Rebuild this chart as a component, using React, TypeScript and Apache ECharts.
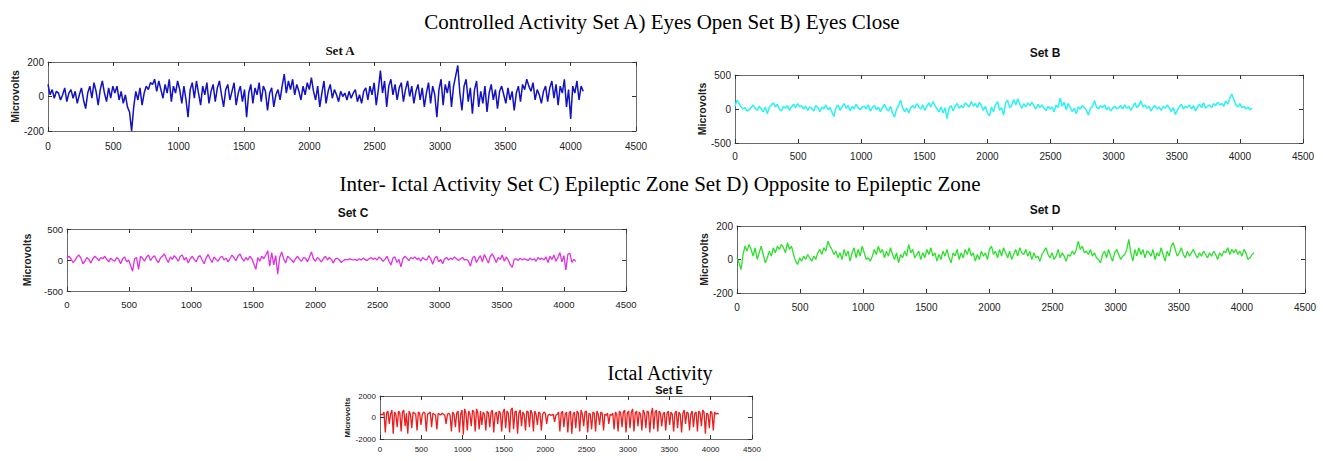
import React, { useEffect, useRef } from "react";
import * as echarts from "echarts";

// ---------------- DATA ----------------
const X_TICKS = [0, 500, 1000, 1500, 2000, 2500, 3000, 3500, 4000, 4500];
const SAMPLE_STEP = 16; // samples between stored points (0 .. 4096)

const setA = [
  70, 10, 40, -10, 30, 20, -20, 10, 50, -30, 20, 40, -10, 30, -40, 10,
  50, -20, -70, 20, 60, -10, 80, 30, -50, 40, 90, 20, -30, 50, -10, 60,
  20, 60, -20, 30, -40, 10, -60, -90, -200, -60, 30, -20, 50, -50, 20, 60,
  40, 80, 70, 100, 30, 90, 40, -10, 70, 20, 100, -30, 60, 20, 90, 40,
  -40, 60, -20, -120, 40, 80, -10, 90, 20, -50, 60, 10, 80, -40, 30, 70,
  -30, 50, 90, 10, -60, 40, 70, -20, 30, 80, -50, 20, 60, -30, 40, -120,
  20, 70, -40, 50, 10, 80, -30, 60, 30, -80, 20, 50, -60, 10, 40, -20,
  60, 130, 20, 90, 40, 100, 10, 70, 30, -20, 60, 10, 80, 40, 110, 30,
  -20, 60, -60, 20, 90, -40, 30, 70, -10, 40, 10, -30, 30, 0, 20, -20,
  30, -10, 20, 40, -30, 10, -40, 30, 50, -20, 60, 10, 80, -50, 40, 150,
  20, 90, -60, 60, 100, 10, 70, -20, 50, 80, -30, 40, 90, 0, 60, -40,
  30, 70, -20, 50, -60, 20, 80, -40, 60, 10, -120, 40, 100, -50, 70, 20,
  90, -60, 60, 120, 180, 20, -80, 60, 100, -30, 50, -100, 40, 90, -60, 30,
  -40, 60, -90, 20, 70, -20, 40, -70, 30, 60, 10, -40, 50, -20, 30, -80,
  20, 60, -30, 70, 40, 100, 60, 30, 80, -20, 40, 10, -40, 30, 60, -30,
  50, 90, -10, 70, -50, 60, 20, 100, -60, 40, -130, 60, 20, 90, -20, 60,
  30,
];

const setB = [
  40, 130, 80, 30, 0, 20, -30, -10, 20, 60, 10, -20, 40, 0, -40, 30,
  -70, 20, 60, 90, 30, 70, 0, -30, 40, 10, 50, -20, 30, 70, 20, 80,
  30, 50, 0, 40, -20, 30, 10, -30, 50, 20, -40, 30, 0, 60, -10, 20,
  -50, -110, 20, 60, -20, 30, 80, 10, 50, -30, 40, 0, 70, 20, -10, 30,
  40, 0, 60, -30, 20, 50, -10, 30, -40, 20, 70, 0, -30, 40, -60, -120,
  0, 50, 130, 20, -40, 10, -60, 20, 50, 10, 80, 30, 0, 60, -20, 40,
  90, 30, 110, 50, 0, -40, 30, -60, 20, -140, 10, 50, -30, 40, 80, 10,
  50, 20, 90, 60, 30, 110, 40, 80, 20, 100, 50, -20, 40, -60, -100, 30,
  -40, 60, 110, -20, 20, -90, 90, 130, 20, 50, 140, 60, 150, 70, 10, 80,
  30, 90, 50, 100, 40, 0, 70, 20, 60, 10, -20, 40, 0, 30, -40, 60,
  20, 160, 40, 100, -10, 80, 20, -40, 10, -70, 30, 0, 50, 20, -20, -90,
  10, 40, 120, 30, 0, 50, 20, 60, -10, 30, -30, 10, 40, 0, 20, 50,
  0, 60, 10, 40, -20, 30, 90, 20, 50, 120, 30, 60, 10, 40, -30, 20,
  50, 0, 30, -20, 40, 10, 60, 20, -40, 20, -80, -20, 30, 70, 0, 40,
  20, 60, 0, 50, -30, 30, 70, 20, 90, 10, 40, 60, 20, 80, 50, 100,
  60, 80, 40, 120, 70, 160, 220, 140, 60, 30, 80, 20, 40, 0, 30, -10,
  10,
];

const setC = [
  30, 60, 20, -40, -10, 50, 80, 30, -60, -20, 40, 10, -50, 20, 60, 30,
  -10, 40, 20, 60, 10, -30, 30, 0, -20, 40, 10, -60, 20, 50, -30, 0,
  -90, -180, 20, 40, -150, 60, 30, -20, 50, 80, -10, 40, 70, 0, -40, 30,
  60, 100, 20, -40, 50, 10, 70, 30, -20, 60, 80, 0, 40, -50, 20, 60,
  10, -30, 50, 70, 0, -60, 30, 90, 20, -40, 50, 10, -20, 40, 60, 0,
  30, -30, 20, 80, 40, -10, 60, 100, 30, -20, 40, 0, 60, 20, -60, -150,
  40, -20, 60, 20, 80, 150, -100, 120, -80, 70, -230, 40, 130, 20, -50, 60,
  30, 0, -40, 20, 60, 10, -20, 40, 30, -30, 50, 130, 20, -20, 40, 10,
  -30, 20, 60, 0, 40, 10, -50, 20, 30, 0, -40, -10, 10, 0, 20, 10,
  0, 10, -10, 20, 0, 30, 10, -10, 20, 40, 10, 30, 0, 50, 20, -20,
  10, 60, -20, -80, 30, 50, -40, 10, -110, 20, 60, 30, -10, 40, 20, 50,
  10, 30, -20, 40, 10, 0, 70, 20, -70, 30, 60, -30, 10, -60, 20, 40,
  0, 30, 10, 50, 20, -10, 20, 40, 0, 10, -20, -100, 30, 60, -40, 20,
  70, -30, 90, 20, -50, 60, 100, 30, -40, 40, 10, 80, -20, 50, 0, -80,
  -120, 10, 20, -10, 30, 0, 20, 10, -10, 30, 0, 20, -20, 40, 10, 30,
  0, 50, -40, 60, 10, 80, -20, 40, 120, -30, 70, -160, 90, 110, -40, 10,
  -20,
];

const setD = [
  10, -20, -60, 30, 80, 50, 90, 60, 20, 70, 0, 40, 80, 30, -20, 10,
  50, 20, 70, 40, 80, 60, 90, 70, 40, 100, 60, 80, 30, -10, -30, 10,
  -10, 20, 0, 30, 10, -10, 20, 0, 40, 60, 30, 70, 50, 110, 80, 60,
  30, 50, 10, 40, 0, 60, 20, 50, -10, 40, 70, 10, 60, 20, 80, 40,
  0, 10, -10, 20, 60, 30, 80, 40, 60, 10, 50, 20, 70, 30, 0, 40,
  -20, 30, 10, 50, 20, 90, 40, 60, 10, 30, 50, 0, 40, 10, 60, 30,
  70, 20, 40, -10, 30, 0, 50, 20, 60, 10, -20, 40, 20, 60, 0, 40,
  10, 60, 30, 70, 20, 40, -10, 30, 0, 50, 20, 40, 0, 60, 80, 30,
  50, 10, 60, 20, 70, 40, 10, 50, 0, 30, 60, 20, 70, 40, 30, 60,
  20, 50, 0, 40, 10, 20, -10, 30, 50, 70, 30, 10, 40, 0, 20, 60,
  10, 40, 20, -10, 30, 20, 50, 30, 60, 110, 60, 80, 40, 50, 30, 60,
  20, 40, 10, 0, -20, 30, 50, 10, 60, 20, -10, 40, 60, 30, 0, 20,
  30, 60, 120, 40, -10, 60, 20, 70, 30, 60, 10, 50, 40, 20, 60, 0,
  40, 20, 70, 30, -10, 50, 20, 80, 100, 60, 20, 40, 70, 30, 10, 50,
  20, 40, 60, 30, 10, 40, 20, 50, 30, 10, 40, 20, 50, 30, 0, 40,
  20, 50, 40, 70, 30, 60, 40, 60, 30, 50, 20, 60, 40, 0, 10, 30,
  40,
];

const setE = [
  200, 300, 250, 500, -1400, 400, 600, -600, 300, 700, -1500, 500, 300, -900, 600, 400,
  -1300, 500, 700, -800, 400, -1500, 600, 300, -1000, 500, 400, 300, -1200, 500, 400, -700,
  300, 500, 400, -1300, 300, 400, 500, -900, 400, 300, 200, -1100, 400, 300, 250, 400,
  300, 200, -600, 300, 400, 200, -1300, 500, 300, -900, 400, 600, -1400, 300, 700, -1600,
  800, 400, -1200, 600, 300, -800, 700, 500, -1300, 800, 400, -1100, 600, -700, 500, 300,
  -1200, 600, 400, -900, 500, 700, -1400, 300, 500, -600, 600, 400, -1300, 500, 800, -1000,
  600, 400, -1400, 700, 900, -1100, 500, 600, -1500, 400, 700, -800, 500, 300, -1200, 600,
  500, -900, 700, 400, -1300, 600, 300, -700, 500, 400, -1200, 300, 500, 400, -600, 200,
  300, 200, 250, 300, -400, 200, 300, 500, -1300, 400, 600, -900, 300, 500, -1400, 400,
  600, -1500, 300, 500, -1000, 600, 400, -1300, 700, 300, -800, 500, 600, -1400, 400, 300,
  -1100, 500, 400, -1300, 600, 300, -700, 500, 400, -1200, 300, 200, 400, -600, 300, 200,
  400, -1100, 500, 300, -1300, 600, 400, -900, 500, 700, -1400, 400, 600, -1000, 500, 800,
  -1300, 400, 600, -800, 500, 300, -1200, 700, 400, -1000, 600, 500, -1400, 300, 900, -1100,
  500, 700, -1300, 600, 400, -800, 300, 500, -1200, 400, 600, -700, 500, 300, -1300, 400,
  600, -1000, 500, 300, -1400, 400, 700, -600, 500, 400, -1200, 300, 600, -900, 400, 500,
  -1300, 600, 400, -800, 700, 500, -1500, 400, 300, -1000, 600, 400, -1200, 500, 300, 400,
  300,
];

const PANEL_TITLES = ["Set A", "Set B", "Set C", "Set D", "Set E"];
const Y_LABEL = "Microvolts";
const HEADINGS = [
  "Controlled Activity Set A) Eyes Open Set B) Eyes Close",
  "Inter- Ictal Activity Set C) Epileptic Zone Set D) Opposite to Epileptic Zone",
  "Ictal Activity",
];
const Y_LIMITS = [
  [-200, 200, 200],
  [-500, 500, 500],
  [-500, 500, 500],
  [-200, 200, 200],
  [-2000, 2000, 2000],
];
const SERIES_VALUES = [setA, setB, setC, setD, setE];

// ---------------- LAYOUT / STYLE ----------------
const GRIDS = [
  { left: 48, top: 62, width: 588, height: 69 },
  { left: 735, top: 75, width: 568, height: 68 },
  { left: 67, top: 229, width: 559, height: 62 },
  { left: 737, top: 226, width: 568, height: 67 },
  { left: 380, top: 396, width: 372, height: 43 },
];
const COLORS = ["#1212c0", "#2cf2f2", "#e030e0", "#2ee02e", "#ee1c1c"];
const LINE_W = [1.5, 1.5, 1.3, 1.3, 1.3];
const LABEL_SIZE = [10, 10, 9.5, 10, 8];
const X_LABEL_MARGIN = [10, 8, 8, 9, 6];
const NAME_SIZE = [10.5, 10.5, 10.5, 10.5, 8];
const NAME_GAP = [28, 22, 35, 22, 25];
const TITLE_FONTS = [
  "bold 13px 'Liberation Serif'",
  "bold 12px 'Liberation Sans'",
  "bold 12px 'Liberation Sans'",
  "bold 12px 'Liberation Sans'",
  "bold 11px 'Liberation Sans'",
];
const TITLE_POS = [
  [340, 50],
  [1045, 53],
  [353, 213],
  [1045, 210],
  [669, 390],
];
const HEADING_POS = [
  [662, 22],
  [660, 184],
  [660, 373],
];
const HEADING_SIZE = [21, 21, 20];

const AXIS_COLOR = "#6b6b6b";
const TEXT_COLOR = "#222";

function buildOption() {
  const grid: any[] = [];
  const xAxis: any[] = [];
  const yAxis: any[] = [];
  const series: any[] = [];
  GRIDS.forEach((g, i) => {
    grid.push({ ...g, containLabel: false });
    const [ymin, ymax, yint] = Y_LIMITS[i];
    const common = {
      gridIndex: i,
      type: "value",
      min: 0,
      max: X_TICKS[X_TICKS.length - 1],
      interval: 500,
      splitLine: { show: false },
      axisLine: { show: true, onZero: false, lineStyle: { color: AXIS_COLOR, width: 1 } },
      axisTick: { show: true, inside: true, length: 4, lineStyle: { color: "#333" } },
    };
    xAxis.push({
      ...common,
      position: "bottom",
      axisLabel: {
        show: true,
        fontFamily: "Liberation Sans",
        fontSize: LABEL_SIZE[i],
        color: TEXT_COLOR,
        margin: X_LABEL_MARGIN[i],
        formatter: (v: number) => String(v),
      },
    });
    xAxis.push({ ...common, position: "top", axisLabel: { show: false } });
    const ycommon = {
      gridIndex: i,
      type: "value",
      min: ymin,
      max: ymax,
      interval: yint,
      splitLine: { show: false },
      axisLine: { show: true, onZero: false, lineStyle: { color: AXIS_COLOR, width: 1 } },
      axisTick: { show: true, inside: true, length: 4, lineStyle: { color: "#333" } },
    };
    yAxis.push({
      ...ycommon,
      position: "left",
      name: Y_LABEL,
      nameLocation: "middle",
      nameRotate: 90,
      nameGap: NAME_GAP[i],
      nameTextStyle: {
        fontFamily: "Liberation Sans",
        fontWeight: "bold",
        fontSize: NAME_SIZE[i],
        color: TEXT_COLOR,
      },
      axisLabel: {
        show: true,
        fontFamily: "Liberation Sans",
        fontSize: LABEL_SIZE[i],
        color: TEXT_COLOR,
        margin: 4,
        formatter: (v: number) => String(v),
      },
    });
    yAxis.push({ ...ycommon, position: "right", axisLabel: { show: false } });
    const vals = SERIES_VALUES[i];
    series.push({
      type: "line",
      name: PANEL_TITLES[i],
      xAxisIndex: i * 2,
      yAxisIndex: i * 2,
      data: vals.map((v, k) => [k * SAMPLE_STEP, v]),
      showSymbol: false,
      symbol: "none",
      lineStyle: { color: COLORS[i], width: LINE_W[i] },
      itemStyle: { color: COLORS[i] },
    });
  });

  const graphic: any[] = [];
  HEADINGS.forEach((t, i) => {
    graphic.push({
      type: "text",
      x: HEADING_POS[i][0],
      y: HEADING_POS[i][1],
      style: {
        text: t,
        font: `${HEADING_SIZE[i]}px 'Liberation Serif'`,
        fill: "#000",
        textAlign: "center",
        textVerticalAlign: "middle",
      },
    });
  });
  PANEL_TITLES.forEach((t, i) => {
    graphic.push({
      type: "text",
      x: TITLE_POS[i][0],
      y: TITLE_POS[i][1],
      style: {
        text: t,
        font: TITLE_FONTS[i],
        fill: "#111",
        textAlign: "center",
        textVerticalAlign: "middle",
      },
    });
  });

  return {
    animation: false,
    backgroundColor: "#fff",
    grid,
    xAxis,
    yAxis,
    series,
    graphic,
  };
}

export default function App() {
  const ref = useRef<HTMLDivElement>(null);
  useEffect(() => {
    if (!ref.current) return;
    const chart = echarts.init(ref.current, undefined, { renderer: "svg" });
    chart.setOption(buildOption() as any);
    return () => chart.dispose();
  }, []);
  return (
    <div
      ref={ref}
      style={{ position: "absolute", left: 0, top: 0, width: 1323, height: 461 }}
    />
  );
}
